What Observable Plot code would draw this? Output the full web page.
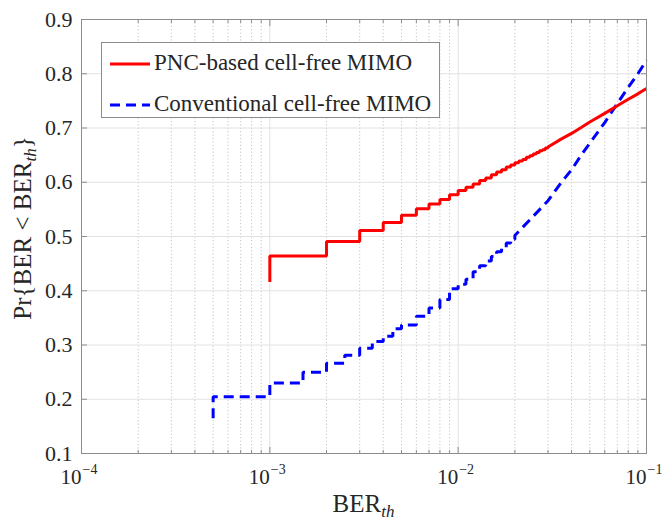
<!DOCTYPE html>
<html>
<head>
<meta charset="utf-8">
<script src="https://cdn.jsdelivr.net/npm/d3@7"></script>
<script src="https://cdn.jsdelivr.net/npm/@observablehq/plot@0.6"></script>
<style>
  html, body { margin: 0; padding: 0; background: #fff; }
  svg { display: block; }
</style>
</head>
<body>
<div id="chart"></div>
<script>
// ---- data ----
const seriesNames = ["PNC-based cell-free MIMO", "Conventional cell-free MIMO"];

// PNC-based: empirical CDF, stair part
const redStepX = [0.001, 0.001, 0.002, 0.003, 0.004, 0.005, 0.006, 0.007, 0.008, 0.009, 0.010,
  0.011, 0.012, 0.013, 0.014, 0.015, 0.016, 0.017, 0.018, 0.019, 0.020,
  0.021, 0.022, 0.023, 0.024, 0.025, 0.026, 0.027, 0.028, 0.029, 0.030];
const redStepY = [0.416, 0.464, 0.491, 0.511, 0.526, 0.539, 0.551, 0.560, 0.568, 0.577, 0.585,
  0.591, 0.597, 0.603, 0.608, 0.614, 0.619, 0.623, 0.628, 0.632, 0.636,
  0.639, 0.642, 0.646, 0.649, 0.652, 0.655, 0.658, 0.660, 0.663, 0.665];
// PNC-based: smooth tail
const redTailX = [0.030, 0.035, 0.040, 0.045, 0.050, 0.060, 0.070, 0.080, 0.090, 0.100];
const redTailY = [0.665, 0.679, 0.690, 0.701, 0.711, 0.727, 0.741, 0.753, 0.763, 0.773];

// Conventional: stair part
const blueStepX = [0.0005, 0.0005, 0.001, 0.0015, 0.002, 0.0025, 0.003, 0.0035, 0.004, 0.0045, 0.005,
  0.006, 0.007, 0.008, 0.009, 0.010, 0.011, 0.012, 0.013, 0.014, 0.015,
  0.016, 0.017, 0.018, 0.019, 0.020];
const blueStepY = [0.165, 0.2045, 0.230, 0.250, 0.2665, 0.281, 0.294, 0.3065, 0.316, 0.330, 0.337,
  0.353, 0.368, 0.384, 0.4036, 0.412, 0.421, 0.435, 0.446, 0.455, 0.463,
  0.472, 0.480, 0.488, 0.495, 0.502];
// Conventional: smooth tail
const blueTailX = [0.020, 0.025, 0.030, 0.035, 0.040, 0.045, 0.050, 0.060, 0.070, 0.080, 0.090, 0.100];
const blueTailY = [0.502, 0.537, 0.566, 0.598, 0.623, 0.650, 0.672, 0.710, 0.745, 0.775, 0.800, 0.825];

// axis ticks
const xMajor = [1e-4, 1e-3, 1e-2, 1e-1];
const xExponents = [-4, -3, -2, -1];
const xMinorMult = [2, 3, 4, 5, 6, 7, 8, 9];
const yTicks = [0.1, 0.2, 0.3, 0.4, 0.5, 0.6, 0.7, 0.8, 0.9];

// ---- build point lists ----
function stairs(sx, sy, tx, ty) {
  const pts = [];
  for (let i = 0; i < sx.length; i++) {
    pts.push({x: sx[i], y: sy[i]});
    if (i + 1 < sx.length) pts.push({x: sx[i + 1], y: sy[i]});
  }
  for (let i = 1; i < tx.length; i++) pts.push({x: tx[i], y: ty[i]});
  return pts;
}
const redPts = stairs(redStepX, redStepY, redTailX, redTailY);
const bluePts = stairs(blueStepX, blueStepY, blueTailX, blueTailY);
const xMinor = xMajor.slice(0, 3).flatMap(d => xMinorMult.map(m => d * m));
const xLab = xMajor.map((d, i) => ({x: d, e: xExponents[i]}));

const axisGray = "#8c8c8c";
const textCol = "#262626";
const W = 669, H = 519;
const mL = 81, mR = 23, mT = 19, mB = 66;

const svg = Plot.plot({
  width: W, height: H,
  marginLeft: mL, marginRight: mR, marginTop: mT, marginBottom: mB,
  style: {fontFamily: "'Liberation Serif', serif", background: "#fff", color: textCol},
  x: {type: "log", domain: [1e-4, 1e-1]},
  y: {domain: [0.1, 0.9]},
  marks: [
    Plot.gridX(xMinor, {stroke: "#c4c4c4", strokeOpacity: 1, strokeDasharray: "1.2,2.2"}),
    Plot.gridX(xMajor, {stroke: "#e2e2e2", strokeOpacity: 1}),
    Plot.gridY(yTicks, {stroke: "#e2e2e2", strokeOpacity: 1}),
    Plot.line(bluePts, {x: "x", y: "y", stroke: "#0000ff", strokeWidth: 3, strokeDasharray: "10,6", strokeLinejoin: "miter", strokeLinecap: "butt"}),
    Plot.line(redPts, {x: "x", y: "y", stroke: "#ff0000", strokeWidth: 3, strokeLinejoin: "miter", strokeLinecap: "butt"}),
    Plot.frame({stroke: axisGray}),
    Plot.axisX(xMajor, {anchor: "bottom", tickSize: -6, tickFormat: () => "", stroke: axisGray, label: null}),
    Plot.axisX(xMajor, {anchor: "top", tickSize: -6, tickFormat: () => "", stroke: axisGray, label: null}),
    Plot.axisX(xMinor, {anchor: "bottom", tickSize: -3, tickFormat: () => "", stroke: axisGray, label: null}),
    Plot.axisX(xMinor, {anchor: "top", tickSize: -3, tickFormat: () => "", stroke: axisGray, label: null}),
    Plot.axisY(yTicks, {anchor: "left", tickSize: -6, tickFormat: () => "", stroke: axisGray, label: null}),
    Plot.axisY(yTicks, {anchor: "right", tickSize: -6, tickFormat: () => "", stroke: axisGray, label: null}),
    Plot.axisY(yTicks, {anchor: "left", tickSize: 0, tickPadding: 9, fontSize: 22, tickFormat: d => d.toFixed(1), label: null, color: textCol}),
    Plot.text(xLab, {x: "x", y: () => 0.1, text: () => "10", textAnchor: "end", dy: 24, fontSize: 21, fill: textCol}),
    Plot.text(xLab, {x: "x", y: () => 0.1, text: d => "\u2212" + Math.abs(d.e), textAnchor: "start", dx: 1, dy: 16, fontSize: 14, fill: textCol})
  ]
});

const s = d3.select(svg);
// x label
const xl = s.append("text").attr("x", (mL + W - mR) / 2).attr("y", 511.5)
  .attr("text-anchor", "middle").attr("font-size", 25).attr("fill", textCol);
xl.append("tspan").text("BER");
xl.append("tspan").attr("font-size", 17).attr("font-style", "italic").attr("dy", 5).text("th");
// y label
const yl = s.append("text").attr("transform", `translate(31,${(mT + H - mB) / 2 - 8}) rotate(-90)`)
  .attr("text-anchor", "middle").attr("font-size", 25).attr("fill", textCol);
yl.append("tspan").text("Pr{BER < BER");
yl.append("tspan").attr("font-size", 17).attr("font-style", "italic").attr("dy", 5).text("th");
yl.append("tspan").attr("dy", -5).text("}");

// legend
const lg = s.append("g");
lg.append("rect").attr("x", 101.5).attr("y", 42.5).attr("width", 338).attr("height", 75)
  .attr("fill", "#fff").attr("stroke", axisGray).attr("stroke-width", 1);
const colors = ["#ff0000", "#0000ff"];
const dashes = [null, "10,6"];
[64, 105].forEach((yy, i) => {
  lg.append("line").attr("x1", 110).attr("x2", 150).attr("y1", yy).attr("y2", yy)
    .attr("stroke", colors[i]).attr("stroke-width", 3).attr("stroke-dasharray", dashes[i]);
  lg.append("text").attr("x", 154).attr("y", yy + 6).attr("text-anchor", "start")
    .attr("font-size", 23).attr("fill", textCol).text(seriesNames[i]);
});

document.getElementById("chart").appendChild(svg);
</script>
</body>
</html>
